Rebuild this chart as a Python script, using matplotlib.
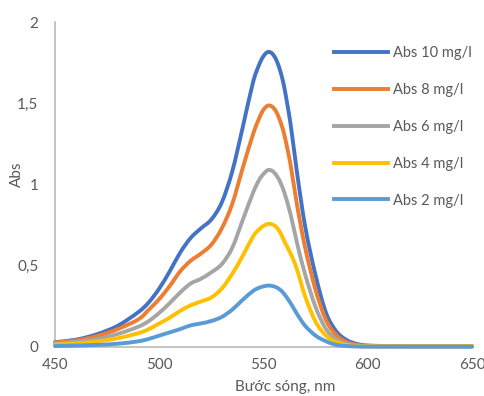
import matplotlib
matplotlib.use("Agg")
import matplotlib.pyplot as plt
from matplotlib.path import Path
from matplotlib.patches import PathPatch
from matplotlib.lines import Line2D

# ---------------- data ----------------
wavelength = [450, 460, 470, 480, 490, 495, 500, 505, 510, 515, 520, 525, 530, 535,
              540, 545, 548, 550, 552, 554, 556, 558, 560, 563, 566, 570, 575, 580,
              585, 590, 595, 600, 610, 620, 630, 640, 650]

abs_10 = [0.030, 0.045, 0.078, 0.130, 0.215, 0.275, 0.360, 0.465, 0.580, 0.670, 0.730,
          0.785, 0.890, 1.080, 1.350, 1.630, 1.740, 1.790, 1.815, 1.808, 1.770, 1.700,
          1.595, 1.370, 1.080, 0.740, 0.440, 0.210, 0.095, 0.042, 0.018, 0.009, 0.006,
          0.005, 0.005, 0.005, 0.005]

abs_8 = [0.028, 0.040, 0.067, 0.110, 0.170, 0.230, 0.295, 0.375, 0.465, 0.530, 0.575,
         0.630, 0.730, 0.880, 1.100, 1.310, 1.410, 1.460, 1.485, 1.480, 1.450, 1.390,
         1.305, 1.120, 0.880, 0.610, 0.350, 0.165, 0.072, 0.030, 0.013, 0.007, 0.005,
         0.005, 0.005, 0.005, 0.005]

abs_6 = [0.022, 0.032, 0.050, 0.080, 0.125, 0.160, 0.210, 0.270, 0.335, 0.390, 0.420,
         0.460, 0.510, 0.610, 0.780, 0.950, 1.030, 1.065, 1.088, 1.085, 1.060, 1.015,
         0.950, 0.815, 0.645, 0.445, 0.245, 0.110, 0.046, 0.019, 0.009, 0.006, 0.005,
         0.005, 0.005, 0.005, 0.005]

abs_4 = [0.015, 0.022, 0.034, 0.054, 0.085, 0.110, 0.145, 0.180, 0.222, 0.256, 0.280,
         0.305, 0.360, 0.450, 0.560, 0.680, 0.725, 0.745, 0.757, 0.755, 0.740, 0.705,
         0.650, 0.575, 0.480, 0.310, 0.155, 0.070, 0.030, 0.012, 0.006, 0.004, 0.004,
         0.004, 0.004, 0.004, 0.004]

abs_2 = [0.006, 0.009, 0.013, 0.020, 0.035, 0.050, 0.070, 0.090, 0.110, 0.133, 0.145,
         0.160, 0.185, 0.230, 0.290, 0.345, 0.365, 0.373, 0.378, 0.376, 0.368, 0.352,
         0.325, 0.270, 0.205, 0.130, 0.070, 0.035, 0.013, 0.006, 0.003, 0.002, 0.002,
         0.002, 0.002, 0.002, 0.002]

series_labels = ["Abs 10 mg/l", "Abs 8 mg/l", "Abs 6 mg/l", "Abs 4 mg/l", "Abs 2 mg/l"]
x_ticks = [450, 500, 550, 600, 650]
x_tick_labels = ["450", "500", "550", "600", "650"]
y_ticks = [0, 0.5, 1, 1.5, 2]
y_tick_labels = ["0", "0,5", "1", "1,5", "2"]
x_title = "Bước sóng, nm"
y_title = "Abs"

# ---------------- style ----------------
colors = ["#4472C4", "#ED7D31", "#A5A5A5", "#FFC000", "#5B9BD5"]
plt.rcParams['font.family'] = ['Lato', 'DejaVu Sans']
text_color = "#595959"
fs = 11
lw = 2.8


def smooth_path(xs, ys):
    """Excel-style smoothed line: Catmull-Rom segments drawn as cubic Bezier curves."""
    pts = list(zip(xs, ys))
    n = len(pts)
    verts = [pts[0]]
    codes = [Path.MOVETO]
    for i in range(n - 1):
        p0 = pts[i - 1] if i > 0 else pts[i]
        p1 = pts[i]
        p2 = pts[i + 1]
        p3 = pts[i + 2] if i + 2 < n else pts[i + 1]
        c1 = (p1[0] + (p2[0] - p0[0]) / 6.0, p1[1] + (p2[1] - p0[1]) / 6.0)
        c2 = (p2[0] - (p3[0] - p1[0]) / 6.0, p2[1] - (p3[1] - p1[1]) / 6.0)
        verts += [c1, c2, p2]
        codes += [Path.CURVE4] * 3
    return Path(verts, codes)


fig = plt.figure(figsize=(4.85, 3.96), dpi=100)
ax = fig.add_axes([55 / 485, 1 - 347 / 396, (472 - 55) / 485, (347 - 22) / 396])

handles = []
for vals, lab, c in zip([abs_10, abs_8, abs_6, abs_4, abs_2], series_labels, colors):
    patch = PathPatch(smooth_path(wavelength, vals), facecolor='none', edgecolor=c,
                      lw=lw, joinstyle='round', capstyle='round', transform=ax.transData)
    patch.set_clip_on(False)
    ax.add_patch(patch)
    handles.append(Line2D([], [], color=c, lw=lw, label=lab))

ax.set_xlim(450, 650)
ax.set_ylim(0, 2)
ax.set_xticks(x_ticks)
ax.set_xticklabels(x_tick_labels)
ax.set_yticks(y_ticks)
ax.set_yticklabels(y_tick_labels)
ax.tick_params(axis='both', length=0, labelsize=fs, labelcolor=text_color)
ax.tick_params(axis='y', pad=12)
ax.tick_params(axis='x', pad=8)

for s in ['top', 'right']:
    ax.spines[s].set_visible(False)
for s in ['left', 'bottom']:
    ax.spines[s].set_color("#BFBFBF")
    ax.spines[s].set_linewidth(1.3)
    ax.spines[s].set_zorder(0.5)

ax.set_xlabel(x_title, fontsize=fs, color=text_color)
ax.set_ylabel(y_title, fontsize=fs, color=text_color)
ax.xaxis.set_label_coords((285 - 55) / 417, (347 - 387) / 325)
ax.yaxis.set_label_coords((17 - 55) / 417, (347 - 174) / 325)
ax.xaxis.label.set_va('center')
ax.yaxis.label.set_va('center')

leg = fig.legend(handles=handles, loc='upper left',
                 bbox_to_anchor=(334 / 485, 1 - 46 / 396),
                 frameon=False, fontsize=10.5, handlelength=3.7, handletextpad=0.35,
                 labelspacing=1.57, borderpad=0, borderaxespad=0)
for t in leg.get_texts():
    t.set_color(text_color)

fig.savefig("out.png", dpi=100)
